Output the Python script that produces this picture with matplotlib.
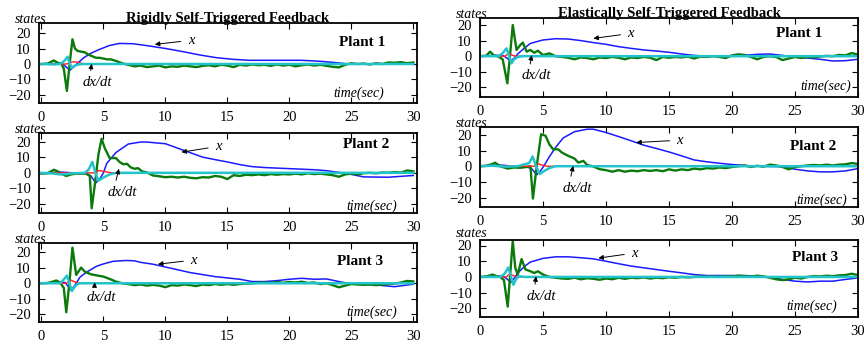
import numpy as np
import matplotlib
matplotlib.use('Agg')
import matplotlib.pyplot as plt

plt.rcParams['font.family'] = ['Liberation Serif', 'DejaVu Serif']

TITLES = ['Rigidly Self-Triggered Feedback', 'Elastically Self-Triggered Feedback']
PLANTS = ['Plant 1', 'Plant 2', 'Plant 3']
YTICKS = [-20, -10, 0, 10, 20]
XTICKS = [0, 5, 10, 15, 20, 25, 30]

# common sample times for the noisy tail of dx/dt
TAIL_A = np.arange(7, 30.01, 0.5)
TAIL_B = np.arange(9, 30.01, 0.5)

# ---------------- rigid, plant 1
L1_X_T = [0, 1.0, 1.7, 2.0, 2.3, 2.6, 2.85, 3.4, 4.0, 4.7, 5.5, 6.3, 7.4, 8.75, 10.1, 11.4,
          12.8, 14.1, 15.5, 16.8, 19, 20.9, 22.2, 23.5, 24.6, 26, 30]
L1_X = [0, 0.3, 0.2, -2, -3.9, -2, 0, 4, 7, 9.5, 12, 13.3, 13.1, 11.6, 9.9, 8,
        5.8, 4.1, 3, 2.4, 2.4, 2.4, 1.9, 1.1, 0.2, 0, 0]
L1_DX_T = [0, 0.5, 0.8, 1.0, 1.3, 1.6, 1.8, 2.05, 2.3, 2.5, 2.7, 2.9, 3.2, 3.5, 3.8, 4.1,
           4.4, 4.7, 5.0, 5.3, 5.6, 6.0, 6.5]
L1_DX = [0, 0.3, 1.5, 2.3, 0.8, 0.2, -3, -17.4, 2, 16, 10, 8.5, 8, 7.5, 6, 5,
         4, 4, 3.5, 3, 3, 2, 0.5]
L1_DX_TAIL = [-0.5, -1.5, -1, -2, -1.5, -1, -2.2, -1.5, -1.8, -1, -1.5, -2, -1.2, -0.8, -1.5,
              -0.5, -1, -2, -0.5, -1, -0.3, -0.8, -0.5, -1.2, -0.3, -1, -0.5, -1.5, -0.8,
              -0.3, -1, -0.5, -1.2, -1.8, -2.2, -0.5, 0.5, 0, 0.3, -0.3, 0.5, 0, 1, 0.8,
              1.2, 0.5, 1]
L1_C_T = [0, 1.0, 1.5, 1.85, 2.1, 2.25, 2.45, 2.7, 3.0, 3.4, 30]
L1_C = [0, -0.3, 0, 2, 4.7, 1, -2.5, -1, -0.3, 0, 0]
L1_R_T = [0, 2.0, 2.3, 2.6, 2.9, 3.3, 3.8, 30]
L1_R = [0, 0, 0.8, 1.5, 1.2, 0.3, 0, 0]

# ---------------- rigid, plant 2
L2_X_T = [0, 1, 1.5, 2, 2.5, 3.5, 4.0, 4.37, 4.7, 5.0, 5.26, 6, 7, 8, 8.5, 10, 11.5, 13,
          14, 15, 16, 17, 18, 20, 22, 23, 24, 25, 26, 28, 30]
L2_X = [0, 0.3, 0.5, 0.3, 0, 0, -2, -6.5, -4, 0, 6, 13, 18.5, 19.8, 19.8, 18.7, 14.4, 10.1,
        8.5, 7, 5.3, 4, 3.4, 2.7, 2, 1.4, 0.3, -1, -2.6, -2.8, -1.7]
L2_DX_T = [0, 0.5, 1.0, 1.3, 1.6, 2.0, 2.4, 2.8, 3.2, 3.6, 3.9, 4.05, 4.3, 4.6, 4.85, 5.1,
           5.5, 6.0, 6.3, 6.6, 6.9, 7.2, 7.5, 7.8, 8.1, 8.5]
L2_DX = [-0.5, -0.3, 2, 1, -0.5, -2, -1, -0.5, -0.5, -0.5, -2, -22.8, -8, 12, 21.9, 16,
         9.5, 9.5, 7, 5.5, 5.8, 3.5, 2.6, 3, 1, 0.3]
L2_DX_TAIL = [-1.7, -2.2, -2.8, -2.5, -3, -2.5, -3.2, -3.5, -2.8, -3, -2, -2.5, -4, -1.5,
              -2, -1.2, -1.5, -1, -1.5, -0.8, -1.2, -0.8, -1, -0.5, -1, -0.3, -0.8, -0.5,
              -1, -1.5, -2.5, -1, -0.5, -1, -0.2, 0, -0.3, 0.2, 0, 0.5, 0.2, 1.5, 1]
L2_C_T = [0, 1, 1.5, 2, 2.5, 3.5, 3.8, 4.1, 4.35, 4.6, 5.0, 5.5, 6, 30]
L2_C = [0, -0.5, -1, -0.8, -0.3, 0, 2, 7, 0, -5, -3, -1, 0, 0]
L2_R_T = [0, 4.2, 4.45, 4.7, 5.0, 5.5, 6, 30]
L2_R = [0, 0, 1, 1.5, 1, 0.2, 0, 0]

# ---------------- rigid, plant 3
L3_X_T = [0, 1, 1.5, 1.9, 2.15, 2.4, 2.8, 3.1, 3.6, 4.45, 5.0, 5.8, 6.8, 7.5, 8, 9, 10,
          12, 14, 16, 17, 18, 19, 20, 21, 22, 23, 24, 25, 27, 28.5, 30]
L3_X = [0, 0.5, 1, 0.5, -2, -4.5, 0, 3.9, 7, 11, 12.5, 14.2, 14.7, 14.5, 13.5, 12.3, 10.5,
        6.9, 4.3, 2.6, 1.1, 1.1, 1.7, 2.6, 3.2, 2.6, 2.8, 1.1, -0.4, -1.1, -2.2, -0.6]
L3_DX_T = [0, 0.5, 0.9, 1.2, 1.5, 1.8, 2.0, 2.25, 2.5, 2.8, 3.2, 3.5, 4.0, 4.5, 5.0, 5.5,
           6.0, 6.5]
L3_DX = [0, 0.2, 1, 1.8, 0.5, -3, -18.7, 0, 23, 5.4, 10.1, 7.5, 5.8, 5, 4.3, 2.8, 1.1, 0]
L3_DX_TAIL = [-0.5, -1.2, -0.8, -1.5, -1, -1.5, -2.5, -1.2, -1.5, -0.8, -1.2, -1.8, -0.8,
              -1.2, -0.5, -1, -0.5, -1, -0.5, -0.2, 0, 0.3, 0.5, 0.2, 0.8, 0.3, 0.8, 0.5,
              1, 0.2, 0.5, -0.5, 0, -1.2, -2.6, -1.5, -0.5, -0.8, -1, -0.8, -1.2, -0.8,
              -0.5, -0.2, 0.5, 1.5, 1.2]
L3_C_T = [0, 1.0, 1.5, 1.75, 2.05, 2.25, 2.45, 2.7, 2.9, 3.2, 30]
L3_C = [0, 0, 0, 2, 5, 0, -5, -2, -0.5, 0, 0]
L3_R_T = [0, 2.0, 2.2, 2.4, 2.6, 2.9, 3.3, 30]
L3_R = [0, 0, 1, 2, 1.2, 0.3, 0, 0]

# ---------------- elastic, plant 1
R1_X_T = [0, 1, 1.8, 2.1, 2.45, 2.75, 3.0, 3.5, 4, 5, 6, 7, 8, 9, 10, 11, 12, 13, 14, 15,
          16, 17, 18, 20, 21, 22, 23, 24, 25, 26, 27, 28, 29, 30]
R1_X = [0, 0.5, 0.5, -1, -3, -1, 1.5, 5, 8.2, 10.4, 11.2, 11, 10, 8.7, 7.6, 6.1, 5, 4, 3.3,
        2.5, 1.4, 0.5, 0, 0, 0.5, 1.2, 1.4, 0.5, -0.7, -1.2, -2, -3.1, -2.9, -2]
R1_DX_T = [0, 0.5, 0.8, 1.1, 1.4, 1.8, 2.17, 2.4, 2.6, 2.9, 3.2, 3.4, 3.7, 4.0, 4.3, 4.6,
           5.0, 5.5, 6.0, 6.5]
R1_DX = [0, 0.3, 2.9, 0.5, 0, -2, -17.4, 2, 20, 4, 7.2, 8.7, 2.9, 4, 2.2, 3.5, 0.7, 1.8, 0,
         -0.5]
R1_DX_TAIL = [-1, -2, -0.8, -1.2, -2, -0.8, -1.2, -0.5, -1, -2, -0.8, -1.2, -0.5, -1, -2.5,
              -0.5, -1, -0.5, -0.8, -0.3, -1.5, -0.3, -0.5, 0, -0.5, -1.2, 0.5, 1.2, 0.8,
              -0.5, -2, -0.5, 0, -0.5, -2.5, -1.5, -0.5, -1.2, -0.5, -0.8, -0.2, 0.2, 0,
              0.8, 0.5, 2, 1]
R1_C_T = [0, 1.5, 1.8, 2.1, 2.3, 2.5, 2.7, 3.0, 3.4, 30]
R1_C = [0, 0, 2, 5, 0.5, -4.6, -2, -0.5, 0, 0]
R1_R_T = [0, 2.0, 2.15, 2.3, 2.5, 2.8, 30]
R1_R = [0, 0, 1, 1.9, 0.8, 0, 0]

# ---------------- elastic, plant 2
R2_X_T = [0, 1, 1.5, 2, 2.5, 3.5, 4.1, 4.5, 4.8, 5.1, 5.5, 6, 6.6, 7.5, 8.5, 9, 10, 11, 12,
          13, 14, 15, 16, 17, 18, 19, 20, 21, 22, 24, 25, 26, 27, 28, 29, 30]
R2_X = [0, 0.5, 0.8, 0.5, 0, 0, -1.5, -5.5, -3, 0.5, 6, 12, 18, 22, 23.6, 23.6, 21.5, 18.9,
        16.2, 13.4, 11.3, 9.1, 6.6, 4, 2.8, 1.9, 1.1, 0.5, 0, -0.3, -1.9, -3, -3.6, -3.6,
        -3, -1.5]
R2_DX_T = [0, 0.5, 0.9, 1.2, 1.6, 2.2, 2.7, 3.2, 3.7, 4.0, 4.2, 4.5, 4.85, 5.2, 5.5, 5.8,
           6.2, 6.5, 7.0, 7.5, 7.8, 8.2, 8.5]
R2_DX = [0, 0.3, 1.2, 2.2, 0, -1.5, -0.8, -1, -0.5, 0, -20.6, 0, 20.4, 19.4, 14, 10.8,
         10.8, 8.7, 6.6, 4.9, 2.3, 3.4, 0.8]
R2_DX_TAIL = [-0.2, -1.9, -2.5, -3.5, -2.5, -3.5, -2.8, -3.2, -2.5, -3, -2.5, -3.2, -2,
              -2.8, -2, -2.5, -1.5, -2, -1.2, -1.5, -0.8, -1.2, -0.5, 0, 0.5, -0.5, 0.3,
              -0.3, 1, 0.5, -0.5, -2, -0.5, 0, 0.5, 0.8, 0.5, 1, 0.5, 1, 1.2, 2, 1.5]
R2_C_T = [0, 1, 2, 3, 3.9, 4.18, 4.45, 4.75, 5.1, 5.5, 6, 30]
R2_C = [0, 0.3, -0.3, 0, 2, 6.2, 0, -5, -3, -1.2, 0, 0]
R2_R_T = [0, 4.3, 4.5, 4.65, 4.9, 5.3, 30]
R2_R = [0, 0, 1, 1.5, 0.8, 0, 0]

# ---------------- elastic, plant 3
R3_X_T = [0, 1, 1.8, 2.1, 2.45, 2.75, 3.0, 3.5, 4, 5, 6, 7, 8, 9, 10, 11, 12, 13, 14, 15,
          16, 17, 18, 21, 22, 23, 24, 25, 26, 27, 28, 29, 30]
R3_X = [0, 0.5, 0.5, -1, -3.5, -0.5, 2.5, 6.5, 9.5, 11.8, 12.8, 12.8, 12.2, 11.5, 10, 8.4,
        6.9, 5.8, 4.7, 3.6, 2.6, 1.5, 0.9, 0.9, 0.5, -0.1, -1.6, -2.7, -3.2, -2.7, -2.7,
        -1.6, -0.6]
R3_DX_T = [0, 0.5, 1.0, 1.3, 1.6, 1.9, 2.2, 2.4, 2.6, 2.8, 3.0, 3.3, 3.6, 4.0, 4.3, 4.6,
           5.0, 5.5, 6.0, 6.5]
R3_DX = [0, 0.3, 1.5, 0.5, 0, -2, -18.9, 2, 23, 5.7, 1.5, 11.4, 4.8, 3.6, 2.5, 3.6, 1.5, 0,
         -0.5, -1]
R3_DX_TAIL = [-1.2, -0.5, -1.5, -0.8, -1.2, -1.8, -1, -1.5, -0.5, -1.2, -0.5, -0.8, -0.3,
              -1, -0.5, -0.8, -0.2, -0.5, 0, -0.3, 0, 0.2, 0, 0.3, 0, 0.5, 0.3, 0.8, 0.5,
              0.2, 0.8, 0.3, -0.5, -1.5, -2, -1.5, -0.5, -1, 0, 0.5, 0.3, 0.8, 0.5, 1, 1.2,
              2, 1.2]
R3_C_T = [0, 1.6, 1.95, 2.25, 2.45, 2.65, 2.85, 3.1, 3.5, 30]
R3_C = [0, 0, 2, 6, 0.5, -5, -1.5, 0.5, 0, 0]
R3_R_T = [0, 2.1, 2.25, 2.4, 2.6, 2.9, 30]
R3_R = [0, 0, 1.2, 2, 1, 0, 0]

panels = [
    (L1_X_T, L1_X, L1_DX_T + list(TAIL_A), L1_DX + L1_DX_TAIL, L1_C_T, L1_C, L1_R_T, L1_R),
    (L2_X_T, L2_X, L2_DX_T + list(TAIL_B), L2_DX + L2_DX_TAIL, L2_C_T, L2_C, L2_R_T, L2_R),
    (L3_X_T, L3_X, L3_DX_T + list(TAIL_A), L3_DX + L3_DX_TAIL, L3_C_T, L3_C, L3_R_T, L3_R),
    (R1_X_T, R1_X, R1_DX_T + list(TAIL_A), R1_DX + R1_DX_TAIL, R1_C_T, R1_C, R1_R_T, R1_R),
    (R2_X_T, R2_X, R2_DX_T + list(TAIL_B), R2_DX + R2_DX_TAIL, R2_C_T, R2_C, R2_R_T, R2_R),
    (R3_X_T, R3_X, R3_DX_T + list(TAIL_A), R3_DX + R3_DX_TAIL, R3_C_T, R3_C, R3_R_T, R3_R),
]

# layout (figure fractions) and per-panel placement of the labels
W, H = 864, 345
boxes = [(39, 23, 103), (39, 133, 213), (39, 243, 322),
         (480, 18, 97), (480, 127, 207), (480, 240, 317)]
ylims = [(-25.2, 26.5), (-25.8, 25.6), (-25, 26), (-26.2, 24.5), (-26, 25), (-25.5, 23.5)]
xlims = [(-0.2, 30.3)] * 3 + [(0, 30)] * 3
states_y = [1.0, 1.0, 1.0, 1.0, 1.0, 1.04]
plant_pos = [(0.855, 0.75), (0.865, 0.86), (0.85, 0.76), (0.845, 0.81), (0.88, 0.75), (0.886, 0.77)]
time_pos = [(0.846, 0.125), (0.88, 0.08), (0.88, 0.127), (0.915, 0.13), (0.905, 0.088), (0.877, 0.14)]
x_ann = [((11.8, 15.3), (9.15, 12.7)), ((14, 17), (11.3, 13.3)), ((12, 15), (9.4, 12.3)),
         ((11.7, 14.6), (9, 11.4)), ((15.6, 16.6), (12.4, 15.1)), ((12, 15.2), (9.4, 12))]
dx_ann = [((4.5, -12), (4.05, 0.2)), ((6.5, -12.5), (6.25, 2.6)), ((4.85, -9), (4.3, 0.6)),
          ((4.5, -12.7), (4.1, 0.7)), ((7.7, -14), (7.4, 0.2)), ((4.9, -12.2), (4.45, 0.4))]

fig = plt.figure(figsize=(W / 100, H / 100), dpi=100)

for i, (xt, xv, dt, dv, ct, cv, rt, rv) in enumerate(panels):
    left, top, bottom = boxes[i]
    ax = fig.add_axes([left / W, (H - bottom) / H, 378 / W, (bottom - top) / H])
    ax.plot(xt, xv, color='#1a1aff', lw=1.1)
    ax.plot(dt, dv, color='#0a7a0a', lw=1.7)
    ax.plot(rt, rv, color='#ff2020', lw=1.0)
    ax.plot(ct, cv, color='#22c4cc', lw=1.8)

    ax.set_xlim(*xlims[i])
    ax.set_ylim(*ylims[i])
    ax.set_xticks(XTICKS)
    ax.set_yticks(YTICKS)
    ax.tick_params(direction='in', top=True, right=True, length=4, width=0.8,
                   labelsize=10.5, pad=6)
    for sp in ax.spines.values():
        sp.set_linewidth(1.3)

    ax.text(-0.065, states_y[i], 'states', transform=ax.transAxes, fontsize=10,
            style='italic', ha='left', va='baseline')
    ax.text(*plant_pos[i], PLANTS[i % 3], transform=ax.transAxes, fontsize=11,
            fontweight='bold', ha='center', va='center')
    ax.text(*time_pos[i], 'time(sec)', transform=ax.transAxes, fontsize=10,
            style='italic', ha='center', va='center')

    (tx, ty), (hx, hy) = x_ann[i]
    ax.annotate('x', xy=(hx, hy), xytext=(tx, ty), fontsize=10.5, style='italic',
                ha='left', va='center',
                arrowprops=dict(arrowstyle='-|>', lw=0.7, color='black',
                                mutation_scale=7, shrinkA=3, shrinkB=0))
    (tx, ty), (hx, hy) = dx_ann[i]
    ax.annotate('dx/dt', xy=(hx, hy), xytext=(tx, ty), fontsize=10.5, style='italic',
                ha='center', va='center',
                arrowprops=dict(arrowstyle='-|>', lw=0.7, color='black',
                                mutation_scale=7, shrinkA=2, shrinkB=0,
                                relpos=(0.25, 1.0)))

    if i % 3 == 0:
        ax.set_title(TITLES[i // 3], fontsize=10.5, fontweight='bold', pad=1)

fig.savefig('out.png', dpi=100)
